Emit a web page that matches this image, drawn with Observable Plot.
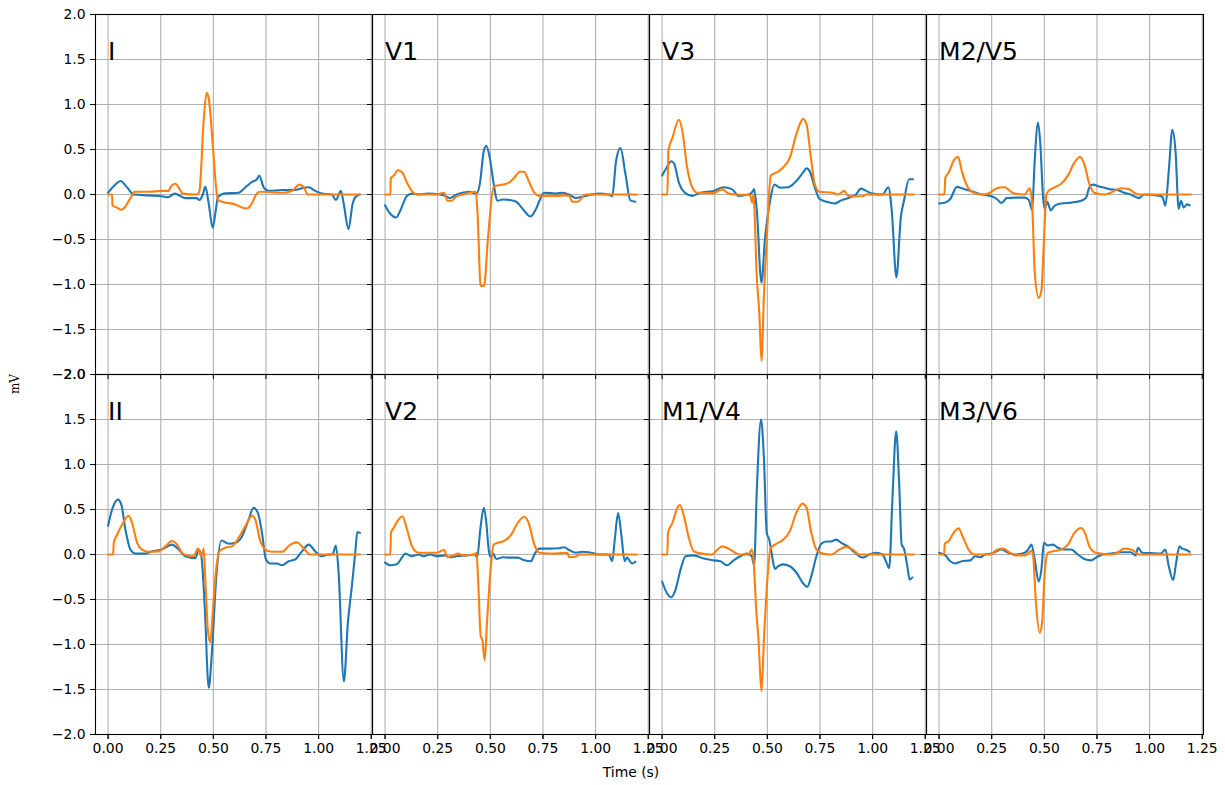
<!DOCTYPE html>
<html>
<head>
<meta charset="utf-8">
<script src="https://cdn.jsdelivr.net/npm/d3@7"></script>
<script src="https://cdn.jsdelivr.net/npm/@observablehq/plot@0.6"></script>
<style>
  html, body { margin: 0; padding: 0; background: white; }
</style>
</head>
<body>
<div id="chart"></div>
<script>
// ---------- data (time s, mV) ----------
const leads = ["I", "V1", "V3", "M2/V5", "II", "V2", "M1/V4", "M3/V6"];
const xTicks = [0, 0.25, 0.5, 0.75, 1.0, 1.25];
const yTicks = [-2, -1.5, -1, -0.5, 0, 0.5, 1, 1.5, 2];

const I_blue = [[0,0.02],[0.03,0.1],[0.059,0.15],[0.09,0.08],[0.122,0.0],[0.19,-0.01],[0.256,-0.02],[0.285,-0.03],[0.316,0.01],[0.367,-0.04],[0.4,-0.04],[0.42,-0.04],[0.434,-0.06],[0.45,0.0],[0.462,0.085],[0.478,-0.1],[0.497,-0.37],[0.51,-0.2],[0.522,-0.03],[0.549,0.01],[0.62,0.02],[0.652,0.08],[0.684,0.14],[0.707,0.17],[0.718,0.21],[0.739,0.08],[0.763,0.04],[0.826,0.05],[0.889,0.05],[0.921,0.07],[0.953,0.08],[0.984,0.04],[1.016,0.01],[1.063,0],[1.082,-0.06],[1.106,0.04],[1.119,-0.1],[1.142,-0.385],[1.161,-0.11],[1.174,-0.03],[1.196,0.0]];
const I_orange = [[0,0],[0.019,0],[0.021,-0.125],[0.038,-0.14],[0.063,-0.17],[0.079,-0.145],[0.106,-0.04],[0.127,0.03],[0.193,0.03],[0.256,0.04],[0.288,0.04],[0.296,0.08],[0.32,0.12],[0.335,0.08],[0.354,0.01],[0.422,0],[0.434,0.04],[0.454,0.82],[0.468,1.13],[0.478,1.07],[0.497,0.56],[0.513,0.08],[0.522,-0.06],[0.541,-0.08],[0.604,-0.11],[0.636,-0.145],[0.66,-0.155],[0.676,-0.125],[0.707,0.01],[0.723,0.03],[0.826,0.02],[0.873,0.04],[0.908,0.11],[0.929,0.085],[0.949,0],[1.196,0]];

const V1_blue = [[0,-0.12],[0.017,-0.19],[0.053,-0.255],[0.072,-0.18],[0.104,-0.015],[0.127,0.01],[0.159,0],[0.206,0.01],[0.261,0],[0.285,-0.015],[0.308,-0.04],[0.34,0],[0.403,0.03],[0.434,0.01],[0.45,0.115],[0.469,0.485],[0.481,0.54],[0.497,0.41],[0.516,0.115],[0.533,-0.07],[0.56,-0.055],[0.591,-0.06],[0.623,-0.08],[0.654,-0.16],[0.69,-0.245],[0.717,-0.16],[0.741,-0.03],[0.756,0.02],[0.811,0.01],[0.843,0.02],[0.874,0],[0.906,-0.04],[0.937,-0.025],[1.016,0.01],[1.063,0],[1.079,-0.02],[1.097,0.37],[1.118,0.515],[1.142,0.225],[1.165,-0.065],[1.189,-0.08]];
const V1_orange = [[0,0],[0.025,0],[0.027,0.18],[0.041,0.21],[0.06,0.27],[0.08,0.25],[0.104,0.13],[0.127,0.04],[0.151,0],[0.245,0],[0.28,0.02],[0.296,-0.07],[0.316,-0.07],[0.34,-0.02],[0.371,0],[0.431,0.03],[0.439,-0.2],[0.454,-1.015],[0.47,-1.015],[0.489,-0.48],[0.516,0.09],[0.56,0.11],[0.591,0.135],[0.615,0.19],[0.642,0.255],[0.662,0.25],[0.682,0.15],[0.709,0.02],[0.733,-0.015],[0.811,-0.015],[0.858,-0.01],[0.874,-0.015],[0.89,-0.08],[0.914,-0.08],[0.953,0],[1.196,0]];

const V3_blue = [[0,0.21],[0.017,0.28],[0.044,0.37],[0.057,0.345],[0.08,0.13],[0.104,0.03],[0.143,-0.015],[0.182,0.02],[0.245,0.04],[0.292,0.08],[0.332,0.06],[0.363,-0.015],[0.41,0],[0.426,0.02],[0.437,0.06],[0.45,-0.18],[0.472,-0.98],[0.489,-0.48],[0.513,-0.07],[0.533,0.11],[0.56,0.075],[0.599,0.08],[0.638,0.15],[0.67,0.245],[0.686,0.29],[0.701,0.26],[0.725,0.08],[0.748,-0.05],[0.78,-0.08],[0.819,-0.1],[0.851,-0.065],[0.89,-0.035],[0.921,0],[0.945,0.065],[0.969,0.04],[1.0,0.01],[1.047,0],[1.075,0.08],[1.091,-0.18],[1.113,-0.92],[1.134,-0.255],[1.149,-0.07],[1.173,0.17],[1.192,0.17]];
const V3_orange = [[0,0],[0.025,0],[0.03,0.485],[0.049,0.63],[0.08,0.83],[0.096,0.71],[0.119,0.3],[0.143,0.08],[0.167,0.02],[0.245,0.015],[0.285,0.06],[0.316,0.01],[0.355,0],[0.418,-0.005],[0.428,-0.09],[0.434,0],[0.45,-0.92],[0.462,-1.33],[0.472,-1.85],[0.484,-1.11],[0.5,-0.37],[0.516,0.21],[0.544,0.245],[0.575,0.3],[0.607,0.41],[0.638,0.67],[0.67,0.84],[0.686,0.78],[0.709,0.375],[0.725,0.115],[0.748,0.03],[0.811,0.02],[0.835,0],[0.866,0.04],[0.882,-0.01],[0.906,-0.02],[0.953,-0.02],[0.969,0],[1.196,0]];

const M2V5_blue = [[0,-0.1],[0.03,-0.09],[0.053,-0.05],[0.085,0.085],[0.108,0.07],[0.156,0.035],[0.203,0],[0.25,-0.02],[0.274,-0.05],[0.297,-0.095],[0.321,-0.04],[0.36,-0.035],[0.407,-0.035],[0.426,-0.06],[0.442,-0.175],[0.454,0.37],[0.47,0.8],[0.481,0.56],[0.494,-0.035],[0.502,-0.16],[0.514,-0.08],[0.53,-0.175],[0.549,-0.125],[0.58,-0.1],[0.627,-0.09],[0.675,-0.07],[0.698,-0.035],[0.714,0.08],[0.73,0.11],[0.761,0.09],[0.808,0.06],[0.847,0.05],[0.879,0.02],[0.91,0],[0.95,-0.04],[0.973,0],[1.036,-0.01],[1.06,-0.025],[1.075,-0.125],[1.091,0.26],[1.108,0.72],[1.123,0.485],[1.138,-0.16],[1.149,-0.07],[1.162,-0.145],[1.178,-0.11],[1.19,-0.12]];
const M2V5_orange = [[0,0],[0.025,0],[0.03,0.19],[0.046,0.245],[0.069,0.375],[0.09,0.42],[0.108,0.26],[0.132,0.1],[0.164,0.02],[0.211,0],[0.242,0.02],[0.274,0.07],[0.313,0.08],[0.336,0.04],[0.36,0.01],[0.407,0],[0.431,0.07],[0.442,-0.11],[0.454,-0.85],[0.473,-1.15],[0.486,-1.07],[0.498,-0.515],[0.509,-0.015],[0.52,0.04],[0.549,0.08],[0.58,0.12],[0.612,0.21],[0.643,0.355],[0.67,0.42],[0.69,0.335],[0.714,0.115],[0.737,0.02],[0.785,0],[0.816,0.02],[0.863,0.07],[0.903,0.06],[0.926,0.02],[0.95,0],[1.196,0]];

const II_blue = [[0,0.32],[0.019,0.5],[0.047,0.61],[0.063,0.555],[0.082,0.28],[0.106,0.055],[0.13,0.01],[0.177,0.01],[0.209,0.035],[0.256,0.055],[0.304,0.11],[0.335,0.055],[0.367,-0.02],[0.415,-0.04],[0.43,0.055],[0.443,-0.02],[0.459,-0.575],[0.478,-1.48],[0.494,-1.055],[0.513,-0.28],[0.538,0.155],[0.573,0.12],[0.604,0.13],[0.636,0.2],[0.668,0.39],[0.691,0.52],[0.712,0.46],[0.731,0.24],[0.75,-0.055],[0.771,-0.1],[0.802,-0.1],[0.826,-0.12],[0.858,-0.075],[0.889,-0.055],[0.921,0.035],[0.953,0.11],[0.984,0.035],[1.016,-0.02],[1.047,0],[1.066,0],[1.082,0.1],[1.095,-0.2],[1.12,-1.41],[1.139,-0.76],[1.158,-0.35],[1.174,0.02],[1.184,0.25],[1.196,0.24]];
const II_orange = [[0,0],[0.024,0],[0.027,0.13],[0.043,0.22],[0.066,0.33],[0.098,0.43],[0.114,0.35],[0.138,0.13],[0.161,0.055],[0.193,0.03],[0.241,0.035],[0.272,0.09],[0.304,0.15],[0.328,0.11],[0.351,0.02],[0.375,-0.01],[0.407,-0.02],[0.427,0.065],[0.443,-0.02],[0.454,0.065],[0.462,-0.28],[0.475,-0.87],[0.486,-0.975],[0.497,-0.65],[0.513,-0.17],[0.528,0.035],[0.557,0.075],[0.589,0.09],[0.62,0.185],[0.652,0.315],[0.684,0.43],[0.699,0.39],[0.723,0.15],[0.747,0.055],[0.778,0.03],[0.826,0.03],[0.866,0.11],[0.897,0.135],[0.921,0.09],[0.945,0.025],[0.96,0],[1.196,0]];

const V2_blue = [[0,-0.09],[0.025,-0.12],[0.057,-0.105],[0.08,-0.035],[0.096,0.01],[0.127,-0.02],[0.159,0.0],[0.182,-0.02],[0.214,0],[0.245,-0.02],[0.285,-0.01],[0.308,-0.03],[0.34,-0.02],[0.387,-0.01],[0.426,0],[0.437,-0.035],[0.454,0.315],[0.469,0.52],[0.481,0.35],[0.492,0.055],[0.5,-0.025],[0.513,0.01],[0.528,-0.05],[0.56,-0.03],[0.591,-0.035],[0.63,-0.035],[0.662,-0.065],[0.693,-0.075],[0.709,0],[0.733,0.065],[0.78,0.065],[0.827,0.07],[0.851,0.08],[0.874,0.05],[0.906,0.02],[0.937,0.03],[0.969,0.025],[1.016,0],[1.063,0],[1.079,-0.075],[1.091,0.165],[1.107,0.46],[1.123,0.2],[1.138,-0.075],[1.149,-0.035],[1.173,-0.1],[1.189,-0.08]];
const V2_orange = [[0,0],[0.025,0],[0.028,0.24],[0.041,0.295],[0.064,0.39],[0.082,0.425],[0.104,0.28],[0.127,0.095],[0.159,0.02],[0.245,0.02],[0.28,0.05],[0.296,-0.03],[0.324,-0.01],[0.347,0.01],[0.371,-0.01],[0.426,0],[0.434,0.02],[0.442,-0.28],[0.454,-0.905],[0.462,-0.945],[0.473,-1.175],[0.484,-0.76],[0.5,-0.2],[0.516,0.11],[0.536,0.13],[0.568,0.155],[0.599,0.22],[0.63,0.35],[0.662,0.42],[0.682,0.35],[0.709,0.11],[0.733,0.02],[0.811,0.01],[0.866,0.02],[0.874,-0.03],[0.906,-0.025],[0.921,0],[1.196,0]];

const M1V4_blue = [[0,-0.3],[0.022,-0.425],[0.044,-0.475],[0.064,-0.39],[0.088,-0.165],[0.112,-0.02],[0.151,-0.01],[0.198,-0.045],[0.245,-0.065],[0.277,-0.075],[0.308,-0.12],[0.34,-0.065],[0.371,-0.02],[0.403,0.01],[0.426,-0.02],[0.437,-0.12],[0.45,0.72],[0.47,1.5],[0.484,1.055],[0.497,0.24],[0.509,0.165],[0.52,0.02],[0.536,-0.16],[0.552,-0.13],[0.575,-0.11],[0.607,-0.13],[0.638,-0.2],[0.67,-0.32],[0.689,-0.36],[0.709,-0.24],[0.733,-0.02],[0.756,0.12],[0.78,0.145],[0.803,0.145],[0.827,0.165],[0.851,0.13],[0.882,0.09],[0.914,0.025],[0.953,-0.035],[0.984,0],[1.016,0.02],[1.047,0],[1.066,-0.09],[1.079,-0.15],[1.094,0.61],[1.112,1.37],[1.126,0.8],[1.138,0.11],[1.149,0.065],[1.165,-0.13],[1.176,-0.28],[1.189,-0.255]];
const M1V4_orange = [[0,0],[0.025,0],[0.028,0.24],[0.049,0.35],[0.072,0.515],[0.085,0.55],[0.104,0.425],[0.127,0.185],[0.151,0.035],[0.19,0.01],[0.237,0],[0.261,0.05],[0.285,0.09],[0.316,0.065],[0.347,0.02],[0.371,0],[0.41,0],[0.426,0.055],[0.434,-0.05],[0.447,-0.61],[0.458,-0.945],[0.472,-1.52],[0.484,-0.945],[0.5,-0.28],[0.516,0.075],[0.544,0.12],[0.575,0.165],[0.607,0.26],[0.638,0.465],[0.667,0.565],[0.686,0.52],[0.709,0.24],[0.733,0.055],[0.764,0.01],[0.803,0],[0.843,0.055],[0.874,0.085],[0.906,0.055],[0.937,0],[1.196,0]];

const M3V6_blue = [[0,0.02],[0.03,-0.01],[0.053,-0.075],[0.077,-0.1],[0.108,-0.075],[0.148,-0.065],[0.171,-0.02],[0.195,-0.03],[0.219,0],[0.25,0.01],[0.297,0.055],[0.329,0.02],[0.36,0],[0.407,0.02],[0.423,0.055],[0.439,0.11],[0.454,-0.055],[0.473,-0.3],[0.486,-0.165],[0.498,0.13],[0.517,0.1],[0.541,0.11],[0.564,0.075],[0.596,0.055],[0.627,0.055],[0.659,0],[0.69,-0.05],[0.722,-0.065],[0.745,-0.035],[0.777,0],[0.816,0.01],[0.863,0.025],[0.91,0.025],[0.934,-0.01],[0.945,0.075],[0.965,0.02],[1.005,0.015],[1.052,0.01],[1.075,0.055],[1.091,-0.13],[1.112,-0.285],[1.126,-0.09],[1.142,0.09],[1.154,0.065],[1.17,0.055],[1.19,0.03]];
const M3V6_orange = [[0,0],[0.024,0],[0.027,0.12],[0.046,0.15],[0.069,0.24],[0.093,0.29],[0.112,0.2],[0.14,0.055],[0.171,0],[0.242,0],[0.274,0.05],[0.305,0.065],[0.336,0.02],[0.36,-0.01],[0.407,-0.01],[0.439,0.04],[0.447,-0.02],[0.459,-0.5],[0.478,-0.87],[0.489,-0.76],[0.502,-0.2],[0.517,0.02],[0.541,0.035],[0.58,0.055],[0.612,0.11],[0.643,0.24],[0.675,0.295],[0.693,0.24],[0.714,0.09],[0.745,0.02],[0.816,0],[0.847,0.02],[0.879,0.065],[0.918,0.05],[0.95,0],[1.196,0]];

const blueSeries = [I_blue, V1_blue, V3_blue, M2V5_blue, II_blue, V2_blue, M1V4_blue, M3V6_blue];
const orangeSeries = [I_orange, V1_orange, V3_orange, M2V5_orange, II_orange, V2_orange, M1V4_orange, M3V6_orange];

// ---------- build tables ----------
function rowsFor(seriesList) {
  const out = [];
  seriesList.forEach((s, i) => {
    s.forEach(([t, v]) => out.push({lead: leads[i], col: i % 4, row: Math.floor(i / 4), t, v}));
  });
  return out;
}
const blueRows = rowsFor(blueSeries);
const orangeRows = rowsFor(orangeSeries);
const labelRows = leads.map((lead, i) => ({lead, col: i % 4, row: Math.floor(i / 4)}));

const gridStyle = {stroke: "#b0b0b0", strokeOpacity: 1, strokeWidth: 1.1};
const lineStyle = {x: "t", y: "v", z: "lead", fx: "col", fy: "row", strokeWidth: 2.1, curve: "monotone-x"};

const svg = Plot.plot({
  width: 1225,
  height: 785,
  marginLeft: 95,
  marginRight: 22,
  marginTop: 14,
  marginBottom: 51,
  style: {fontFamily: "'DejaVu Sans', sans-serif", fontSize: "13.9px", color: "black", background: "white", overflow: "visible"},
  fx: {domain: [0, 1, 2, 3], padding: 0, axis: null},
  fy: {domain: [0, 1], padding: 0, axis: null},
  x: {domain: [-0.0598, 1.256]},
  y: {domain: [-2, 2]},
  marks: [
    Plot.gridX(xTicks, gridStyle),
    Plot.gridY(yTicks, gridStyle),
    Plot.line(blueRows, {...lineStyle, stroke: "#1f77b4"}),
    Plot.line(orangeRows, {...lineStyle, stroke: "#ff7f0e"}),
    Plot.text(labelRows, {x: () => 0, y: () => 1.5, text: "lead", fx: "col", fy: "row",
      textAnchor: "start", lineAnchor: "bottom", fontSize: 25, fill: "black"}),
    Plot.frame({stroke: "black", strokeWidth: 1.1}),
    Plot.axisY({ticks: yTicks, tickFormat: () => "", tickSize: 5, label: null, facetAnchor: null}),
    Plot.axisX({ticks: xTicks, tickFormat: () => "", tickSize: 5, label: null, facetAnchor: null}),
    Plot.axisY({ticks: yTicks, tickFormat: d3.format(".1f"), tickSize: 5, tickPadding: 5, label: null}),
    Plot.axisX({ticks: xTicks, tickFormat: d3.format(".2f"), tickSize: 5, tickPadding: 4, label: null})
  ]
});

const sel = d3.select(svg);
sel.append("text")
  .attr("x", 631).attr("y", 777)
  .attr("text-anchor", "middle")
  .attr("font-family", "'DejaVu Sans', sans-serif")
  .attr("font-size", "13.9px")
  .attr("fill", "black")
  .text("Time (s)");
sel.append("text")
  .attr("transform", "translate(19,384) rotate(-90)")
  .attr("text-anchor", "middle")
  .attr("font-family", "'DejaVu Serif', serif")
  .attr("font-size", "12px")
  .attr("fill", "black")
  .text("mV");

document.getElementById("chart").appendChild(svg);
</script>
</body>
</html>
